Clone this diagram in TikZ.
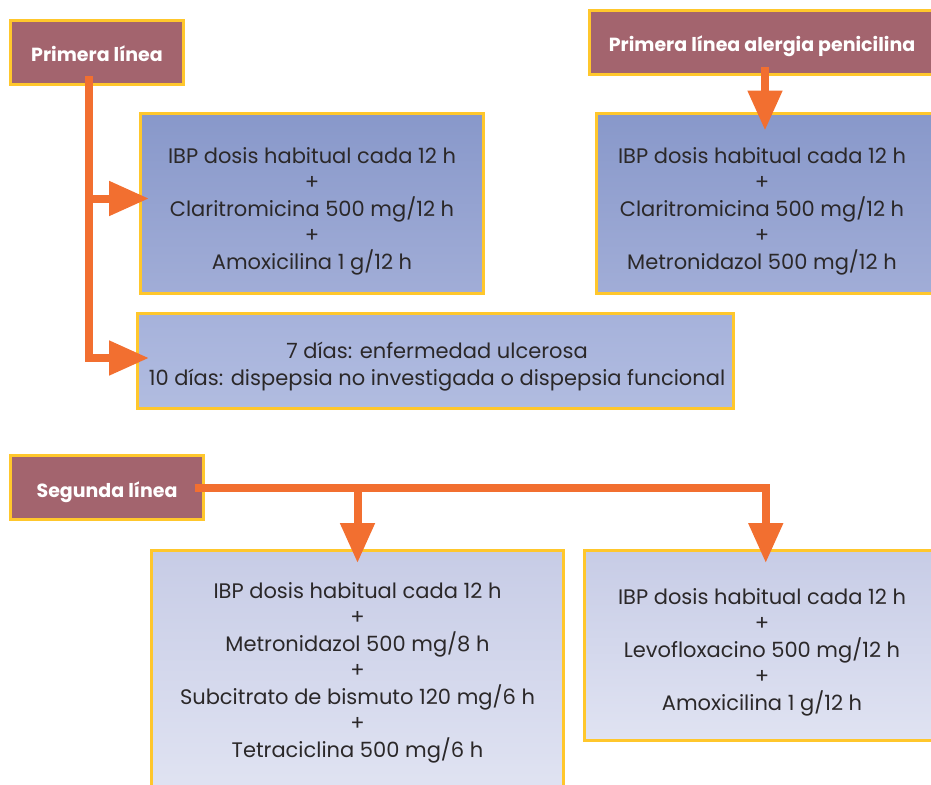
\documentclass[tikz,border=0pt]{standalone}
\usepackage{fontspec}
\setmainfont{Poppins}
\usetikzlibrary{arrows.meta, positioning}

\definecolor{amarillo}{HTML}{FFC72C}
\definecolor{granate}{HTML}{A3646E}
\definecolor{naranja}{HTML}{F26F30}
\definecolor{tinta}{HTML}{2B2829}
\definecolor{azulA}{HTML}{8898CA}
\definecolor{azulB}{HTML}{A1ADD7}
\definecolor{azulC}{HTML}{A6B2DB}
\definecolor{azulD}{HTML}{B1BCE0}
\definecolor{azulE}{HTML}{C7CCE6}
\definecolor{azulF}{HTML}{E0E3F2}

\tikzset{
  linea/.style={draw=amarillo, line width=3pt, fill=granate, text=white,
    font=\bfseries\fontsize{19}{22}\selectfont, inner sep=0pt,
    text height=19pt, text depth=0pt},
  pauta/.style={draw=amarillo, line width=3pt, inner sep=0pt},
  texto/.style={text=tinta, align=center, font=\fontsize{21}{26.5}\selectfont, inner sep=0pt},
  flecha/.style={draw=naranja, line width=8pt, -{Triangle[length=40pt,width=33pt]}}
}

\begin{document}
\begin{tikzpicture}[x=1pt,y=-1pt]
\useasboundingbox (0,0) rectangle (931,784);

% Primera linea
\node[linea, minimum width=173, minimum height=64] (p1) at (97,52.5) {Primera línea};
\node[pauta, top color=azulA, bottom color=azulB, minimum width=343, minimum height=180] (b1) at (312,203.5) {};
\node[texto] (t1) at (312,211)
  {IBP dosis habitual cada 12 h\\+\\Claritromicina 500 mg/12 h\\+\\Amoxicilina 1 g/12 h};
\node[pauta, top color=azulC, bottom color=azulD, minimum width=596, minimum height=95] (b3) at (435.5,361) {};
\node[texto] (t3) at (437,366.5)
  {7 días: enfermedad ulcerosa\\10 días: dispepsia no investigada o dispepsia funcional};

% Alergia a penicilina
\node[linea, minimum width=345, minimum height=64] (pa) at (762,42.5) {Primera línea alergia penicilina};
\node[pauta, top color=azulA, bottom color=azulB, minimum width=337, minimum height=180] (b2) at (765,203.5) {};
\node[texto] (t2) at (762,211)
  {IBP dosis habitual cada 12 h\\+\\Claritromicina 500 mg/12 h\\+\\Metronidazol 500 mg/12 h};

% Segunda linea
\node[linea, minimum width=193, minimum height=64] (s2) at (107,487.5) {Segunda línea};
\node[pauta, top color=azulE, bottom color=azulF, minimum width=412, minimum height=239] (b4) at (357.5,670) {};
\node[texto] (t4) at (357.5,672.5)
  {IBP dosis habitual cada 12 h\\+\\Metronidazol 500 mg/8 h\\+\\Subcitrato de bismuto 120 mg/6 h\\+\\Tetraciclina 500 mg/6 h};
\node[pauta, top color=azulE, bottom color=azulF, minimum width=362, minimum height=190] (b5) at (765.75,645.5) {};
\node[texto] (t5) at (762,652)
  {IBP dosis habitual cada 12 h\\+\\Levofloxacino 500 mg/12 h\\+\\Amoxicilina 1 g/12 h};

% Flechas
\draw[flecha] ([xshift=-8pt,yshift=10pt]p1.south) |- ([xshift=10pt,yshift=5pt]b1.west);
\draw[flecha] ([xshift=-8pt,yshift=10pt]p1.south) |- ([xshift=13pt,yshift=3pt]b3.west);
\draw[flecha] ([xshift=3pt,yshift=8.5pt]pa.south) -- ([yshift=-18.5pt]b2.north);
\draw[flecha] ([xshift=-10.5pt]s2.east) -| ([yshift=-14pt]b5.north);
\draw[flecha] ([xshift=-10.5pt]s2.east) -| ([yshift=-14pt]b4.north);

\end{tikzpicture}
\end{document}
